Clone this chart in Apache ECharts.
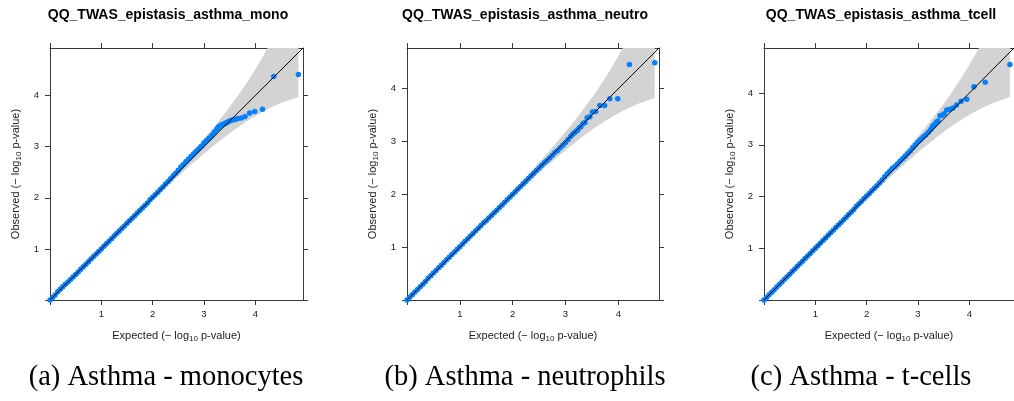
<!DOCTYPE html>
<html>
<head>
<meta charset="utf-8">
<script src="https://cdn.jsdelivr.net/npm/echarts@6/dist/echarts.min.js"></script>
<style>
  html, body { margin: 0; padding: 0; background: #ffffff; }
  #chart { width: 1014px; height: 401px; }
</style>
</head>
<body>
<div id="chart"></div>
<script>
// Panel texts
const panelTitles = ['QQ_TWAS_epistasis_asthma_mono', 'QQ_TWAS_epistasis_asthma_neutro', 'QQ_TWAS_epistasis_asthma_tcell'];
const captions = ['(a) Asthma - monocytes', '(b) Asthma - neutrophils', '(c) Asthma - t-cells'];
const tickValues = [0, 1, 2, 3, 4];
const labelValues = [1, 2, 3, 4];
const axisMax = [4.93, 4.77, 4.87];

// Monocytes: expected vs observed -log10 p
const monoExpected = [0.00,0.05,0.10,0.15,0.20,0.25,0.30,0.35,0.40,0.45,0.50,0.55,0.60,0.65,0.70,0.75,0.80,0.85,0.90,0.95,
  1.00,1.05,1.10,1.15,1.20,1.25,1.30,1.35,1.40,1.45,1.50,1.55,1.60,1.65,1.70,1.75,1.80,1.85,1.90,1.95,
  2.00,2.05,2.10,2.15,2.20,2.25,2.30,2.35,2.40,2.45,2.50,2.55,2.60,2.65,2.70,2.75,2.80,2.85,2.90,2.95,
  3.00,3.05,3.10,3.15,3.20,3.25,3.27,3.29,3.32,3.35,3.38,3.41,3.44,3.48,3.52,3.56,3.61,3.66,3.73,3.80,
  3.89,3.99,4.14,4.36,4.84];
const monoObserved = [0.00,0.05,0.10,0.16,0.21,0.26,0.31,0.35,0.40,0.45,0.50,0.55,0.60,0.65,0.70,0.75,0.80,0.85,0.90,0.95,
  1.00,1.05,1.10,1.15,1.20,1.25,1.30,1.35,1.40,1.45,1.50,1.55,1.60,1.65,1.70,1.75,1.80,1.85,1.90,1.96,
  2.01,2.06,2.11,2.16,2.21,2.27,2.32,2.37,2.43,2.48,2.54,2.60,2.65,2.71,2.76,2.81,2.86,2.91,2.96,3.01,
  3.07,3.12,3.17,3.22,3.28,3.34,3.36,3.39,3.41,3.43,3.44,3.46,3.47,3.49,3.51,3.52,3.53,3.55,3.56,3.59,
  3.66,3.69,3.73,4.37,4.41];
const monoBandX  = [0, 0.5, 1.062, 1.539, 2.063, 2.541, 2.844, 3.150, 3.378, 3.561, 3.726, 3.886, 3.995, 4.141, 4.363, 4.539, 4.840];
const monoBandLo = [0, 0.493, 1.046, 1.512, 2.014, 2.458, 2.728, 2.986, 3.168, 3.306, 3.423, 3.529, 3.596, 3.680, 3.793, 3.869, 3.972];
const monoBandHi = [0, 0.507, 1.078, 1.566, 2.113, 2.629, 2.969, 3.330, 3.615, 3.858, 4.089, 4.329, 4.502, 4.748, 5.155, 5.506, 6.136];

// Neutrophils
const neutroExpected = [0.00,0.05,0.10,0.15,0.20,0.25,0.30,0.35,0.40,0.45,0.50,0.55,0.60,0.65,0.70,0.75,0.80,0.85,0.90,0.95,
  1.00,1.05,1.10,1.15,1.20,1.25,1.30,1.35,1.40,1.45,1.50,1.55,1.60,1.65,1.70,1.75,1.80,1.85,1.90,1.95,
  2.00,2.05,2.10,2.15,2.20,2.25,2.30,2.35,2.40,2.45,2.50,2.55,2.60,2.65,2.70,2.75,2.80,2.85,2.90,2.95,
  3.00,3.05,3.10,3.14,3.17,3.20,3.23,3.26,3.29,3.33,3.37,3.41,3.46,3.51,3.57,3.65,3.74,3.84,3.99,4.21,4.69];
const neutroObserved = [0.00,0.05,0.10,0.15,0.20,0.25,0.30,0.35,0.41,0.46,0.51,0.56,0.61,0.66,0.71,0.76,0.81,0.86,0.91,0.96,
  1.01,1.06,1.11,1.16,1.21,1.26,1.31,1.36,1.41,1.46,1.50,1.55,1.60,1.65,1.70,1.75,1.80,1.85,1.90,1.95,
  2.00,2.05,2.10,2.15,2.20,2.25,2.30,2.35,2.40,2.45,2.50,2.55,2.60,2.64,2.69,2.74,2.79,2.83,2.88,2.93,
  2.98,3.04,3.10,3.14,3.17,3.19,3.22,3.26,3.28,3.34,3.36,3.45,3.47,3.56,3.57,3.68,3.68,3.81,3.81,4.46,4.49];
const neutroBandX  = [0, 0.5, 0.912, 1.389, 1.913, 2.391, 2.694, 3.000, 3.228, 3.411, 3.576, 3.736, 3.845, 3.991, 4.213, 4.389, 4.690];
const neutroBandLo = [0, 0.493, 0.896, 1.362, 1.864, 2.308, 2.578, 2.836, 3.018, 3.156, 3.273, 3.379, 3.446, 3.530, 3.643, 3.719, 3.822];
const neutroBandHi = [0, 0.507, 0.928, 1.416, 1.963, 2.479, 2.819, 3.180, 3.465, 3.708, 3.939, 4.179, 4.352, 4.598, 5.005, 5.356, 5.986];

// T-cells
const tcellExpected = [0.00,0.05,0.10,0.15,0.20,0.25,0.30,0.35,0.40,0.45,0.50,0.55,0.60,0.65,0.70,0.75,0.80,0.85,0.90,0.95,
  1.00,1.05,1.10,1.15,1.20,1.25,1.30,1.35,1.40,1.45,1.50,1.55,1.60,1.65,1.70,1.75,1.80,1.85,1.90,1.95,
  2.00,2.05,2.10,2.15,2.20,2.25,2.30,2.35,2.40,2.45,2.50,2.55,2.60,2.65,2.70,2.75,2.80,2.85,2.90,2.95,
  3.00,3.05,3.10,3.15,3.20,3.25,3.28,3.30,3.33,3.36,3.39,3.43,3.47,3.51,3.56,3.61,3.68,3.75,3.84,3.95,
  4.09,4.31,4.79];
const tcellObserved = [0.00,0.05,0.10,0.15,0.20,0.25,0.30,0.35,0.40,0.45,0.50,0.55,0.60,0.65,0.70,0.75,0.80,0.85,0.90,0.95,
  1.00,1.05,1.10,1.15,1.20,1.25,1.30,1.35,1.40,1.45,1.50,1.55,1.60,1.65,1.70,1.75,1.81,1.86,1.91,1.96,
  2.01,2.06,2.11,2.16,2.21,2.26,2.32,2.38,2.44,2.49,2.54,2.58,2.63,2.68,2.73,2.78,2.83,2.88,2.94,3.00,
  3.06,3.10,3.15,3.19,3.24,3.30,3.35,3.37,3.40,3.44,3.46,3.56,3.57,3.60,3.67,3.68,3.71,3.77,3.84,3.88,
  4.12,4.21,4.55];
const tcellBandX  = [0, 0.5, 1.012, 1.489, 2.013, 2.491, 2.794, 3.100, 3.328, 3.511, 3.676, 3.836, 3.945, 4.091, 4.313, 4.489, 4.790];
const tcellBandLo = [0, 0.493, 0.996, 1.462, 1.964, 2.408, 2.678, 2.936, 3.118, 3.256, 3.373, 3.479, 3.546, 3.630, 3.743, 3.819, 3.922];
const tcellBandHi = [0, 0.507, 1.028, 1.516, 2.063, 2.579, 2.919, 3.280, 3.565, 3.808, 4.039, 4.279, 4.452, 4.698, 5.105, 5.456, 6.086];

// Panel placement on the page
const panelLayout = [
  { left: 50,  width: 253, titleX: 168, capX: 166 },
  { left: 407, width: 252, titleX: 525, capX: 525 },
  { left: 764, width: 252, titleX: 881, capX: 861 }
];
const GRID_TOP = 48, GRID_H = 252;

const panels = [
  { exp: monoExpected,   obs: monoObserved,   bx: monoBandX,   lo: monoBandLo,   hi: monoBandHi },
  { exp: neutroExpected, obs: neutroObserved, bx: neutroBandX, lo: neutroBandLo, hi: neutroBandHi },
  { exp: tcellExpected,  obs: tcellObserved,  bx: tcellBandX,  lo: tcellBandLo,  hi: tcellBandHi }
];

const AXIS_COLOR = '#3a3a3a';
const POINT_COLOR = '#0080ff';
const BAND_COLOR = '#d3d3d3';
const SANS = '"Liberation Sans", Arial, Helvetica, sans-serif';
const SERIF = '"Liberation Serif", "Times New Roman", serif';

function nameStyle() {
  return {
    fontFamily: SANS, fontSize: 11, color: '#222', lineHeight: 15,
    rich: { s: { fontFamily: SANS, fontSize: 8, lineHeight: 9, verticalAlign: 'bottom', color: '#222' } }
  };
}

const grid = [], xAxis = [], yAxis = [], series = [], graphic = [];

panels.forEach((p, k) => {
  const L = panelLayout[k];
  const max = axisMax[k];
  grid.push({ left: L.left, top: GRID_TOP, width: L.width, height: GRID_H, containLabel: false });

  const base = {
    type: 'value', gridIndex: k, min: 0, max: max,
    splitLine: { show: false },
    axisLine: { show: true, onZero: false, lineStyle: { color: AXIS_COLOR, width: 1 } },
    axisTick: { show: true, inside: false, length: 5, customValues: tickValues, lineStyle: { color: AXIS_COLOR, width: 1 } }
  };
  const labelStyle = { fontFamily: SANS, fontSize: 9.5, color: '#222', customValues: labelValues };

  xAxis.push(Object.assign({}, base, {
    position: 'bottom',
    axisLabel: Object.assign({ margin: 9 }, labelStyle),
    name: 'Expected (\u2212 log{s|10} p-value)', nameLocation: 'middle', nameGap: 28,
    nameTextStyle: nameStyle()
  }));
  xAxis.push(Object.assign({}, base, { position: 'top', axisLabel: { show: false } }));

  yAxis.push(Object.assign({}, base, {
    position: 'left',
    axisLabel: Object.assign({ margin: 11 }, labelStyle),
    name: 'Observed (\u2212 log{s|10} p-value)', nameLocation: 'middle', nameGap: 27, nameRotate: 90,
    nameTextStyle: nameStyle()
  }));
  yAxis.push(Object.assign({}, base, { position: 'right', axisLabel: { show: false } }));

  // Confidence band as a filled polygon (upper edge forward, lower edge back)
  series.push({
    type: 'custom', xAxisIndex: 2 * k, yAxisIndex: 2 * k, clip: true, silent: true, z: 1,
    data: [0],
    renderItem: (params, api) => {
      const pts = [];
      for (let i = 0; i < p.bx.length; i++) pts.push(api.coord([p.bx[i], p.hi[i]]));
      for (let i = p.bx.length - 1; i >= 0; i--) pts.push(api.coord([p.bx[i], p.lo[i]]));
      return { type: 'polygon', shape: { points: pts }, style: { fill: BAND_COLOR, stroke: null } };
    }
  });

  const n = Math.min(p.exp.length, p.obs.length);
  const pts = [];
  for (let i = 0; i < n; i++) pts.push([p.exp[i], p.obs[i]]);
  series.push({
    type: 'scatter', xAxisIndex: 2 * k, yAxisIndex: 2 * k, z: 2, silent: true,
    symbol: 'circle', symbolSize: 5.5, itemStyle: { color: POINT_COLOR, opacity: 1 },
    data: pts
  });

  // Reference line y = x
  series.push({
    type: 'line', xAxisIndex: 2 * k, yAxisIndex: 2 * k, z: 3, silent: true, clip: true,
    symbol: 'none', lineStyle: { color: '#000', width: 1 },
    data: [[0, 0], [max, max]]
  });

  graphic.push({
    type: 'text', x: L.titleX, y: 15,
    style: { text: panelTitles[k], font: 'bold 14px ' + SANS, fill: '#000', align: 'center', verticalAlign: 'middle' }
  });
  graphic.push({
    type: 'text', x: L.capX, y: 378,
    style: { text: captions[k], font: '28.5px ' + SERIF, fill: '#000', align: 'center', verticalAlign: 'middle' }
  });
});

const chart = echarts.init(document.getElementById('chart'), null, { renderer: 'canvas' });
chart.setOption({
  animation: false,
  backgroundColor: '#ffffff',
  grid, xAxis, yAxis, series, graphic
});
</script>
</body>
</html>
